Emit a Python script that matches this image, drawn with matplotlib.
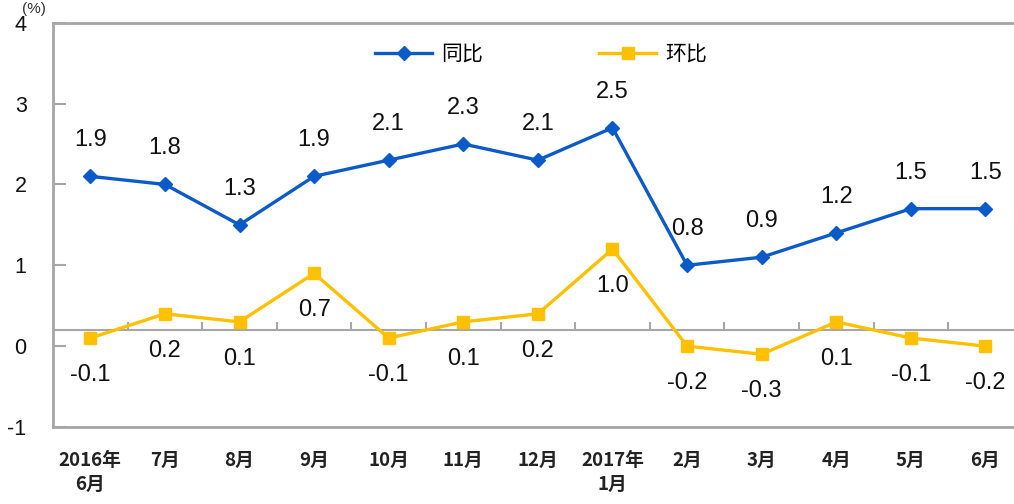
import matplotlib
matplotlib.use('Agg')
import matplotlib.pyplot as plt
import numpy as np

plt.rcParams['font.family'] = ['Liberation Sans', 'Noto Sans CJK SC', 'DejaVu Sans']

categories = ['2016年\n6月', '7月', '8月', '9月', '10月', '11月', '12月',
              '2017年\n1月', '2月', '3月', '4月', '5月', '6月']
yoy = [1.9, 1.8, 1.3, 1.9, 2.1, 2.3, 2.1, 2.5, 0.8, 0.9, 1.2, 1.5, 1.5]
mom = [-0.1, 0.2, 0.1, 0.7, -0.1, 0.1, 0.2, 1.0, -0.2, -0.3, 0.1, -0.1, -0.2]
ytick_labels = ['-1', '0', '1', '2', '3', '4']

BLUE = '#0a5ac8'
GOLD = '#ffc000'
GRID = '#a6a6a6'
W, H = 1014, 504
DPI = 100
PX = 72 / DPI  # points per pixel

fig = plt.figure(figsize=(W / DPI, H / DPI), dpi=DPI)
ax_w = 13 * 74.6 / W
ax = fig.add_axes([53 / W, (H - 427) / H, ax_w, (427 - 22.7) / H])

x = np.arange(len(categories))
ax.plot(x, yoy, color=BLUE, lw=2.4, marker='D', ms=7.5, label='同比')
ax.plot(x, mom, color=GOLD, lw=2.4, marker='s', ms=8, label='环比')

# value labels
for i, v in enumerate(yoy):
    ax.annotate(f'{v:.1f}', (i, v), xytext=(0, 36 * PX), textcoords='offset points',
                ha='center', va='center', fontsize=17, color='#111111')
for i, v in enumerate(mom):
    ax.annotate(f'{v:.1f}', (i, v), xytext=(0, -37 * PX), textcoords='offset points',
                ha='center', va='center', fontsize=17, color='#111111')

# the category axis sits on zero, the value scale is shifted in the original
offset = 0.2
ax.set_ylim(-1 - offset, 4 - offset - 0.005)
ax.set_xlim(-0.5, len(categories) - 0.5)
ax.set_yticks([int(t) - offset for t in ytick_labels])
ax.set_yticklabels(ytick_labels)
ax.tick_params(axis='y', direction='in', length=9 * PX * 1.389, width=1.5, color=GRID,
               pad=19, labelsize=15.5, labelcolor='#111111')
ax.set_xticks(x)
ax.set_xticklabels(categories, linespacing=1.35,
                   fontdict={'family': ['Noto Sans CJK SC'], 'size': 13.5,
                             'weight': 'bold', 'color': '#222222'})
ax.tick_params(axis='x', length=0, pad=17)

ax.axhline(0, color=GRID, lw=1.5, zorder=1)
ax.vlines(np.arange(-0.5, len(categories), 1), 0, 0.1, color=GRID, lw=1.5, zorder=1)

for s in ax.spines.values():
    s.set_color(GRID)
    s.set_linewidth(2)

leg = ax.legend(loc='center', bbox_to_anchor=(0.503, 0.923), ncol=2, frameon=False,
                handlelength=2.75, handletextpad=0.4, columnspacing=5.6,
                prop={'family': ['Noto Sans CJK SC'], 'size': 15})

fig.text(34 / W, 1 - 9 / H, '(%)', ha='center', va='center', fontsize=11, color='#333333')

fig.savefig('out.png', dpi=DPI)
